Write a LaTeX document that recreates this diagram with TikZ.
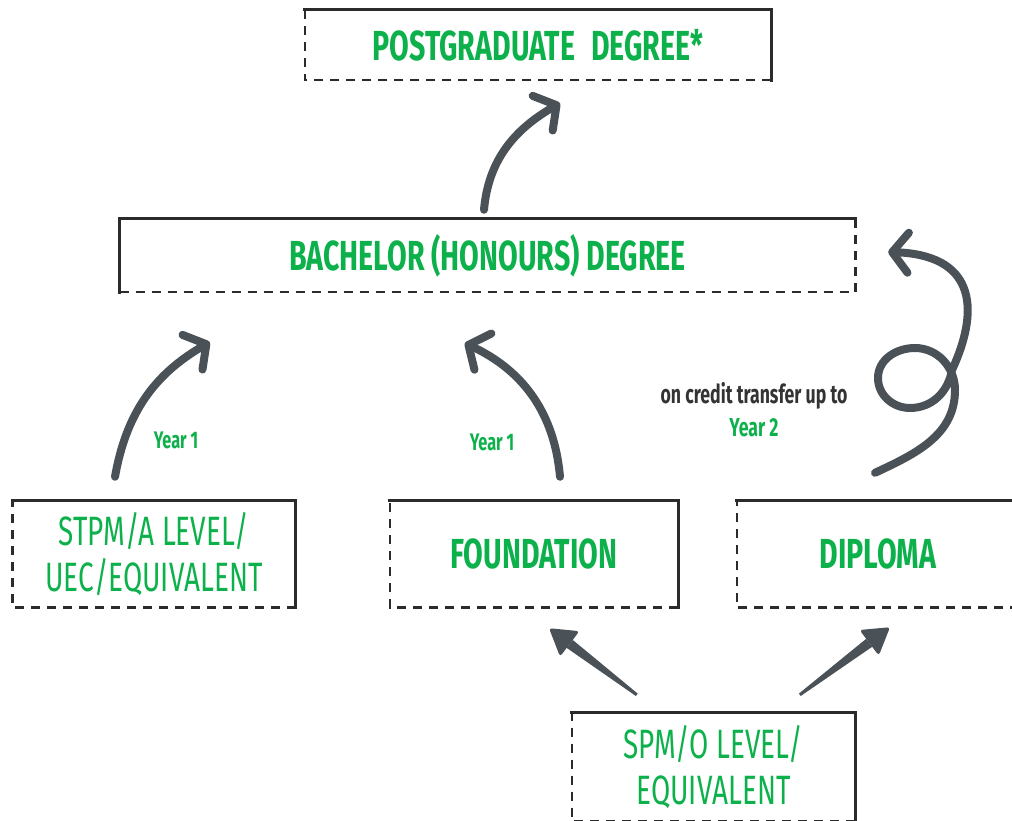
\documentclass[tikz,border=0pt]{standalone}
\usepackage{fontspec}
\usetikzlibrary{arrows.meta,calc}

\newfontfamily\condfont[FakeStretch=0.68]{Fira Sans}

\definecolor{pathgreen}{HTML}{0DB14B}
\definecolor{arrowgray}{HTML}{4B5257}
\definecolor{edgegray}{HTML}{2B2B2B}
\definecolor{notegray}{HTML}{333333}

\tikzstyle{degbox} = [inner sep=0pt, text=pathgreen, align=center, font=\condfont\bfseries\fontsize{42}{46}\selectfont]
\tikzstyle{entrybox} = [degbox, font=\condfont\fontsize{41}{46}\selectfont]
\tikzstyle{solidedge} = [draw=edgegray, line width=3pt, line cap=rect]
\tikzstyle{dashedge} = [draw=edgegray, line width=2.6pt, dash pattern=on 9pt off 7pt]
\tikzstyle{curly} = [draw=arrowgray, line width=8pt, line cap=round, -{Straight Barb[round,length=16pt,width=40pt]}]
\tikzstyle{yearlabel} = [text=pathgreen, font=\condfont\bfseries\fontsize{24}{26}\selectfont]

% top and right solid, bottom and left dashed
\newcommand{\tracebox}[1]{%
  \draw[solidedge] (#1.north west) -- (#1.north east) -- (#1.south east);
  \draw[dashedge] (#1.south east) -- (#1.south west) -- (#1.north west);}

% straight arrow with a thin tail and a filled head
\newcommand{\taperarrow}[2]{%
  \coordinate (hb) at ($(#2)!26pt!(#1)$);
  \fill[arrowgray] ($(#1)!1.5pt!90:(#2)$) -- ($(hb)!5pt!90:(#2)$) -- ($(hb)!5pt!-90:(#2)$) -- ($(#1)!1.5pt!-90:(#2)$) -- cycle;
  \fill[arrowgray, rounded corners=3pt] (#2) -- ($(hb)!16pt!90:(#2)$) -- ($(hb)!16pt!-90:(#2)$) -- cycle;}

\begin{document}
\begin{tikzpicture}[x=1pt, y=1pt]
	\useasboundingbox (0,0) rectangle (1012,820);
	
	\node[degbox, minimum width=466pt, minimum height=70pt] (post) at (538,775) {POSTGRADUATE\hspace{16pt}DEGREE*};
	\node[degbox, minimum width=735pt, minimum height=73pt] (bach) at (487.5,564.5) {BACHELOR (HONOURS) DEGREE};
	\node[entrybox, minimum width=283pt, minimum height=106pt] (stpm) at (154,266) {STPM/A LEVEL/\\UEC/EQUIVALENT};
	\node[degbox, minimum width=288pt, minimum height=106pt] (found) at (534,266) {FOUNDATION};
	\node[degbox, minimum width=282pt, minimum height=106pt] (dipl) at (878,266) {DIPLOMA};
	\node[entrybox, minimum width=283pt, minimum height=108pt] (spm) at (713.5,53) {SPM/O LEVEL/\\EQUIVALENT};
	
	\tracebox{post}
	\tracebox{stpm}
	\tracebox{found}
	\tracebox{dipl}
	\tracebox{spm}
	% bachelor: left and top solid
	\draw[solidedge] (bach.south west) -- (bach.north west) -- (bach.north east);
	\draw[dashedge] (bach.north east) -- (bach.south east) -- (bach.south west);
	
	\node[yearlabel] (y1a) at (176,380) {Year 1};
	\node[yearlabel] (y1b) at (492,378) {Year 1};
	\node[align=center, text=notegray, font=\condfont\bfseries\fontsize{26}{33}\selectfont] (credit) at (754,410) {on credit transfer up to\\\textcolor{pathgreen}{Year 2}};
	
	% curved arrows up
	\draw[curly] ($(bach.north)+(-3.5,9)$) to[out=85,in=210] ($(post.south)+(22,-23)$);
	\draw[curly] ($(stpm.north)+(-39,24)$) to[out=80,in=210] ($(bach.south west)+(90,-50)$);
	\draw[curly] ($(found.north)+(26,24)$) to[out=95,in=-25] ($(bach.south west)+(345,-51)$);
	% loop from diploma
	\draw[curly] ($(dipl.north)+(-3,28)$) to[out=25,in=-90] (955,430) to[out=90,in=0] (915,472) to[out=180,in=90] (878,442) to[out=-90,in=180] (910,412) to[out=0,in=-100] (952,450) .. controls (982,515) and (972,565) .. ($(bach.east)+(33,3.5)$);
	
	% straight arrows from SPM
	\coordinate (s1) at ($(spm.north west)+(65,18)$);
	\coordinate (f1) at ($(found.south)+(15,-21)$);
	\coordinate (s2) at ($(spm.north west)+(228,18)$);
	\coordinate (d2) at ($(dipl.south)+(12,-20)$);
	\taperarrow{s1}{f1}
	\taperarrow{s2}{d2}
\end{tikzpicture}
\end{document}
